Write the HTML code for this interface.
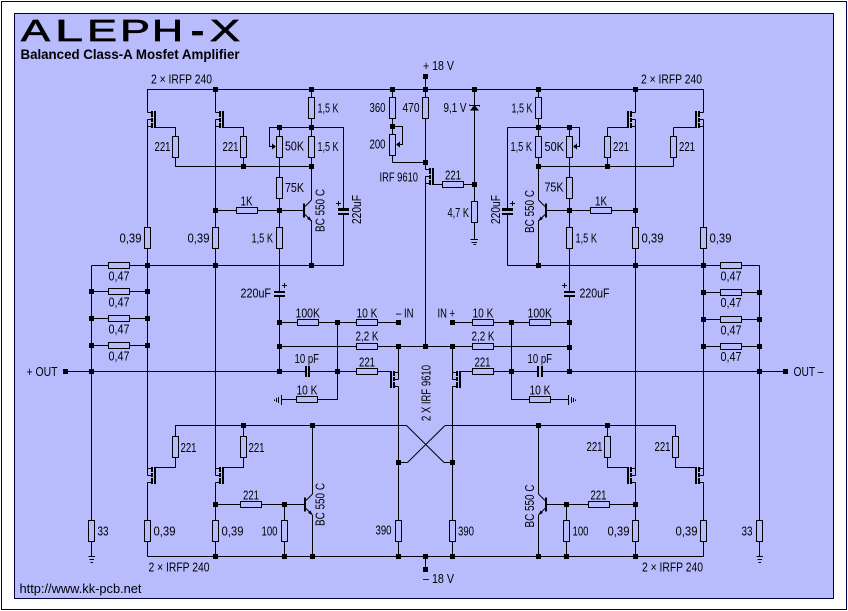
<!DOCTYPE html>
<html><head><meta charset="utf-8"><title>ALEPH-X</title>
<style>
html,body{margin:0;padding:0;background:#fff;width:848px;height:611px;overflow:hidden}
svg{display:block;font-family:"Liberation Sans",Arial,sans-serif}
text{font-size:13px;fill:#000}
.t{font-size:31px;stroke:#000;stroke-width:.7}
.w{fill:none;stroke:#000;stroke-width:1;shape-rendering:crispEdges}
.d{fill:none;stroke:#000;stroke-width:1}
.r{fill:#b8bcfc;stroke:#000;stroke-width:1;shape-rendering:crispEdges}
.k{fill:#000;shape-rendering:crispEdges}
.bg{fill:#b8bcfc;shape-rendering:crispEdges}
</style></head><body>
<svg width="848" height="611" viewBox="0 0 848 611" xmlns="http://www.w3.org/2000/svg">
<defs>
<rect id="rv" class="r" x="-3" y="0" width="6" height="21"/>
<rect id="rh" class="r" x="0" y="-3" width="21" height="6"/>
<rect id="n" class="k" x="-2.5" y="-2.5" width="5" height="5"/>
<g id="m"><path class="w" d="M0,1.5H4M0,8.5H4M0,15.5H4M0,8.5V15.5"/>
<rect class="k" x="3.5" y="0" width="2" height="6"/><rect class="k" x="3.5" y="7" width="2" height="4"/><rect class="k" x="3.5" y="12" width="2" height="5"/><rect class="k" x="6.5" y="0" width="2" height="17"/></g>
<g id="q"><rect class="k" x="-8.5" y="-7" width="2" height="14"/><path class="d" d="M-6.5,-4L0,-10.5M-6.5,4L0,10.5"/><path d="M0,10.5L-4.5,8.5L-2,6Z"/></g>
</defs>
<rect x="1.5" y="1.5" width="845" height="608" style="fill:#fff;stroke:#000050;shape-rendering:crispEdges"/>
<rect x="14.5" y="13.5" width="819" height="585" style="fill:#b8bcfc;stroke:#000040;shape-rendering:crispEdges"/>

<!-- wires -->
<path class="w" d="M147.5,89.5H703.5M425.5,76V169.5M425.5,176.5V346.5
M147.5,89V112.5M147.5,119.5V468.5M147.5,482.5V556.5
M215.5,89V112.5M215.5,119.5V468.5M215.5,482.5V556.5
M635.5,89V112.5M635.5,119.5V468.5M635.5,482.5V556.5
M703.5,89V112.5M703.5,119.5V468.5M703.5,482.5V556.5
M91.5,265.5V556M759.5,265.5V556M91.5,265.5H343.5M507.5,265.5H759.5
M91.5,291.5H147.5M91.5,318.5H147.5M91.5,345.5H147.5
M703.5,292.5H759.5M703.5,319.5H759.5M703.5,346.5H759.5
M155,127.5H175.5V166.5H311.5M223,127.5H243.5V166.5
M311.5,89V200M311.5,220V265.5
M279.5,127.5H343.5V265.5M279.5,127.5H269.5V146.5H274M279.5,127.5V371.5
M215.5,210.5H304M279.5,322.5H398.5M279.5,346.5H569.5M65.5,371.5H390
M337.5,322.5V399.5H281M398.5,346.5V372.5M398.5,386.5V556.5
M452.5,346.5V372.5M452.5,386.5V556.5
M452.5,322.5H569.5M460,371.5H785.5M511.5,322.5V399.5H568.5M569.5,127.5V371.5
M155,467.5H175.5V425.5H406.5M223,467.5H243.5V425.5
M445,425.5H675.5V467.5H695M607.5,425.5V467.5H627
M398.5,462.5H407.5M444,462.5H452.5
M312.5,425.5V494M312.5,515V556.5M538.5,425.5V494M538.5,515V556.5
M215.5,504.5H304M284.5,504.5V556.5M547,504.5H635.5M566.5,504.5V556.5
M147.5,556.5H703.5M425.5,556.5V569.5
M538.5,89V200M538.5,220V265.5M507.5,127.5H579.5V146.5H576M507.5,127.5V265.5
M538.5,166.5H673.5M607.5,127.5H627M607.5,127.5V166.5M673.5,127.5H695M673.5,127.5V166.5
M547,210.5H635.5M433,184.5H474.5M392.5,89V162.5H425.5M392.5,126.5H402.5V144.5H399M474.5,89V239
M88.5,556.5H95M89.5,559.5H94M90.5,562.5H93M756.5,556.5H763M757.5,559.5H762M758.5,562.5H761
M470.5,239.5H478M471.5,242.5H477M473.5,244.5H476
M281.5,395V405M278.5,397V403M276.5,398V402M274.5,399.5V401
M568.5,395V405M571.5,397V403M573.5,398V402M575.5,399.5V401"/>
<path class="d" d="M406.5,425.5L444,462.5M407.5,462.5L445,425.5"/>

<!-- resistors vertical -->
<use href="#rv" x="147.5" y="227.5"/><use href="#rv" x="215.5" y="227.5"/><use href="#rv" x="279.5" y="227.5"/>
<use href="#rv" x="569.5" y="227.5"/><use href="#rv" x="635.5" y="227.5"/><use href="#rv" x="703.5" y="227.5"/>
<use href="#rv" x="311.5" y="97.5"/><use href="#rv" x="392.5" y="97.5"/><use href="#rv" x="425.5" y="97.5"/><use href="#rv" x="538.5" y="97.5"/>
<use href="#rv" x="175.5" y="136.5"/><use href="#rv" x="243.5" y="136.5"/><use href="#rv" x="279.5" y="136.5"/><use href="#rv" x="311.5" y="136.5"/>
<use href="#rv" x="538.5" y="136.5"/><use href="#rv" x="569.5" y="136.5"/><use href="#rv" x="607.5" y="136.5"/><use href="#rv" x="673.5" y="136.5"/>
<use href="#rv" x="392.5" y="134.5"/>
<use href="#rv" x="279.5" y="177.5"/><use href="#rv" x="569.5" y="177.5"/>
<use href="#rv" x="474.5" y="201.5"/>
<use href="#rv" x="175.5" y="436.5"/><use href="#rv" x="243.5" y="436.5"/><use href="#rv" x="607.5" y="436.5"/><use href="#rv" x="675.5" y="436.5"/>
<use href="#rv" x="91.5" y="520.5"/><use href="#rv" x="147.5" y="520.5"/><use href="#rv" x="215.5" y="520.5"/><use href="#rv" x="284.5" y="520.5"/>
<use href="#rv" x="398.5" y="520.5"/><use href="#rv" x="452.5" y="520.5"/><use href="#rv" x="566.5" y="520.5"/><use href="#rv" x="635.5" y="520.5"/>
<use href="#rv" x="703.5" y="520.5"/><use href="#rv" x="759.5" y="520.5"/>
<!-- resistors horizontal -->
<use href="#rh" x="108.5" y="265.5"/><use href="#rh" x="108.5" y="291.5"/><use href="#rh" x="108.5" y="318.5"/><use href="#rh" x="108.5" y="345.5"/>
<use href="#rh" x="720.5" y="265.5"/><use href="#rh" x="720.5" y="292.5"/><use href="#rh" x="720.5" y="319.5"/><use href="#rh" x="720.5" y="346.5"/>
<use href="#rh" x="236.5" y="210.5"/><use href="#rh" x="590.5" y="210.5"/><use href="#rh" x="442.5" y="184.5"/>
<use href="#rh" x="297.5" y="322.5"/><use href="#rh" x="356.5" y="322.5"/><use href="#rh" x="472.5" y="322.5"/><use href="#rh" x="529.5" y="322.5"/>
<use href="#rh" x="356.5" y="346.5"/><use href="#rh" x="472.5" y="346.5"/><use href="#rh" x="356.5" y="371.5"/><use href="#rh" x="472.5" y="371.5"/>
<use href="#rh" x="296.5" y="399.5"/><use href="#rh" x="529.5" y="399.5"/>
<use href="#rh" x="240.5" y="504.5"/><use href="#rh" x="588.5" y="504.5"/>

<!-- pot arrows -->
<path class="k" d="M276,146.5L272,143.5V149.5Z"/><path class="k" d="M573,146.5L577,143.5V149.5Z"/><path class="k" d="M396,144.5L400,141.5V147.5Z"/>

<!-- mosfets -->
<use href="#m" transform="translate(147.5,111)"/><use href="#m" transform="translate(215.5,111)"/>
<use href="#m" transform="translate(635.5,111) scale(-1,1)"/><use href="#m" transform="translate(703.5,111) scale(-1,1)"/>
<use href="#m" transform="translate(425.5,168)"/>
<use href="#m" transform="translate(147.5,484) scale(1,-1)"/><use href="#m" transform="translate(215.5,484) scale(1,-1)"/>
<use href="#m" transform="translate(635.5,484) scale(-1,-1)"/><use href="#m" transform="translate(703.5,484) scale(-1,-1)"/>
<use href="#m" transform="translate(398.5,388) scale(-1,-1)"/><use href="#m" transform="translate(452.5,388) scale(1,-1)"/>

<!-- transistors -->
<use href="#q" transform="translate(311.5,210.5)"/><use href="#q" transform="translate(538.5,210.5) scale(-1,1)"/>
<use href="#q" transform="translate(312.5,504.5)"/><use href="#q" transform="translate(538.5,504.5) scale(-1,1)"/>

<!-- capacitors -->
<rect class="bg" x="338" y="210" width="11" height="4"/><rect class="k" x="338" y="208" width="11" height="3"/><rect class="k" x="338" y="213" width="11" height="2"/>
<rect class="bg" x="502" y="210" width="11" height="4"/><rect class="k" x="502" y="208" width="11" height="3"/><rect class="k" x="502" y="213" width="11" height="2"/>
<rect class="bg" x="274" y="292" width="11" height="4"/><rect class="k" x="274" y="291" width="11" height="2"/><rect class="k" x="274" y="295" width="11" height="2"/>
<rect class="bg" x="564" y="292" width="11" height="4"/><rect class="k" x="564" y="291" width="11" height="2"/><rect class="k" x="564" y="295" width="11" height="2"/>
<rect class="bg" x="306" y="366" width="3" height="11"/><rect class="k" x="305" y="366" width="2" height="11"/><rect class="k" x="308" y="366" width="2" height="11"/>
<rect class="bg" x="538" y="366" width="4" height="11"/><rect class="k" x="537" y="366" width="2" height="11"/><rect class="k" x="541" y="366" width="2" height="11"/>
<path class="w" d="M336,203.5H341M338.5,201V206M510,203.5H515M512.5,201V206M282,285.5H287M284.5,283V288M562,285.5H567M564.5,283V288"/>

<!-- zener -->
<path class="k" d="M474.5,105L470,110.5H479Z"/><path class="w" d="M469.5,105.5H480M469.5,104.5V105.5M479.5,105.5V106.5"/>

<!-- nodes -->
<g>
<use href="#n" x="215.5" y="89.5"/><use href="#n" x="311.5" y="89.5"/><use href="#n" x="392.5" y="89.5"/><use href="#n" x="425.5" y="89.5"/><use href="#n" x="474.5" y="89.5"/><use href="#n" x="538.5" y="89.5"/><use href="#n" x="635.5" y="89.5"/><use href="#n" x="425.5" y="76.5"/>
<use href="#n" x="279.5" y="127.5"/><use href="#n" x="311.5" y="127.5"/><use href="#n" x="392.5" y="126.5"/><use href="#n" x="538.5" y="127.5"/><use href="#n" x="569.5" y="127.5"/>
<use href="#n" x="243.5" y="166.5"/><use href="#n" x="311.5" y="166.5"/><use href="#n" x="538.5" y="166.5"/><use href="#n" x="607.5" y="166.5"/><use href="#n" x="425.5" y="162.5"/><use href="#n" x="474.5" y="184.5"/>
<use href="#n" x="215.5" y="210.5"/><use href="#n" x="279.5" y="210.5"/><use href="#n" x="569.5" y="210.5"/><use href="#n" x="635.5" y="210.5"/>
<use href="#n" x="147.5" y="265.5"/><use href="#n" x="215.5" y="265.5"/><use href="#n" x="311.5" y="265.5"/><use href="#n" x="538.5" y="265.5"/><use href="#n" x="635.5" y="265.5"/><use href="#n" x="703.5" y="265.5"/>
<use href="#n" x="91.5" y="291.5"/><use href="#n" x="147.5" y="291.5"/><use href="#n" x="91.5" y="318.5"/><use href="#n" x="147.5" y="318.5"/><use href="#n" x="91.5" y="345.5"/><use href="#n" x="147.5" y="345.5"/>
<use href="#n" x="703.5" y="292.5"/><use href="#n" x="759.5" y="292.5"/><use href="#n" x="703.5" y="319.5"/><use href="#n" x="759.5" y="319.5"/><use href="#n" x="703.5" y="346.5"/><use href="#n" x="759.5" y="346.5"/>
<use href="#n" x="279.5" y="322.5"/><use href="#n" x="337.5" y="322.5"/><use href="#n" x="398.5" y="322.5"/><use href="#n" x="452.5" y="322.5"/><use href="#n" x="511.5" y="322.5"/><use href="#n" x="569.5" y="322.5"/>
<use href="#n" x="279.5" y="346.5"/><use href="#n" x="398.5" y="346.5"/><use href="#n" x="425.5" y="346.5"/><use href="#n" x="452.5" y="346.5"/><use href="#n" x="569.5" y="347.5"/>
<use href="#n" x="65.5" y="371.5"/><use href="#n" x="91.5" y="371.5"/><use href="#n" x="279.5" y="371.5"/><use href="#n" x="337.5" y="371.5"/><use href="#n" x="511.5" y="371.5"/><use href="#n" x="569.5" y="371.5"/><use href="#n" x="759.5" y="371.5"/><use href="#n" x="785.5" y="371.5"/>
<use href="#n" x="243.5" y="425.5"/><use href="#n" x="312.5" y="425.5"/><use href="#n" x="538.5" y="425.5"/><use href="#n" x="607.5" y="425.5"/>
<use href="#n" x="398.5" y="462.5"/><use href="#n" x="452.5" y="462.5"/>
<use href="#n" x="215.5" y="504.5"/><use href="#n" x="284.5" y="504.5"/><use href="#n" x="566.5" y="504.5"/><use href="#n" x="635.5" y="504.5"/>
<use href="#n" x="215.5" y="556.5"/><use href="#n" x="284.5" y="556.5"/><use href="#n" x="312.5" y="556.5"/><use href="#n" x="398.5" y="556.5"/><use href="#n" x="425.5" y="556.5"/><use href="#n" x="452.5" y="556.5"/><use href="#n" x="538.5" y="556.5"/><use href="#n" x="566.5" y="556.5"/><use href="#n" x="635.5" y="556.5"/><use href="#n" x="425.5" y="569.5"/>
</g>

<!-- title -->
<g>
<text class="t" x="21" y="41" textLength="29" lengthAdjust="spacingAndGlyphs">A</text>
<text class="t" x="55" y="41" textLength="28" lengthAdjust="spacingAndGlyphs">L</text>
<text class="t" x="87" y="41" textLength="30" lengthAdjust="spacingAndGlyphs">E</text>
<text class="t" x="120" y="41" textLength="30" lengthAdjust="spacingAndGlyphs">P</text>
<text class="t" x="152" y="41" textLength="31" lengthAdjust="spacingAndGlyphs">H</text>
<text class="t" x="191" y="41" style="font-weight:bold" textLength="13" lengthAdjust="spacingAndGlyphs">-</text>
<text class="t" x="210" y="41" textLength="30" lengthAdjust="spacingAndGlyphs">X</text>
</g>
<text x="20.5" y="59" style="font-size:14px;font-weight:bold" textLength="219" lengthAdjust="spacingAndGlyphs">Balanced Class-A Mosfet Amplifier</text>
<text x="19.5" y="593" textLength="122" lengthAdjust="spacingAndGlyphs">http://www.kk-pcb.net</text>

<!-- labels -->
<g>
<text x="151" y="83.5" textLength="61" lengthAdjust="spacingAndGlyphs">2 × IRFP 240</text>
<text x="641" y="83.5" textLength="61" lengthAdjust="spacingAndGlyphs">2 × IRFP 240</text>
<text x="423" y="70" textLength="31" lengthAdjust="spacingAndGlyphs">+ 18 V</text>
<text x="423" y="583" textLength="31" lengthAdjust="spacingAndGlyphs">– 18 V</text>
<text x="148.5" y="571.5" textLength="61" lengthAdjust="spacingAndGlyphs">2 × IRFP 240</text>
<text x="642" y="571.5" textLength="61" lengthAdjust="spacingAndGlyphs">2 × IRFP 240</text>

<text x="317.5" y="112.5" textLength="21" lengthAdjust="spacingAndGlyphs">1,5 K</text>
<text x="369.5" y="112" textLength="16" lengthAdjust="spacingAndGlyphs">360</text>
<text x="402.5" y="112" textLength="17" lengthAdjust="spacingAndGlyphs">470</text>
<text x="443.5" y="112" textLength="23" lengthAdjust="spacingAndGlyphs">9,1 V</text>
<text x="511.5" y="112.5" textLength="21" lengthAdjust="spacingAndGlyphs">1,5 K</text>

<text x="154.5" y="151" textLength="16" lengthAdjust="spacingAndGlyphs">221</text>
<text x="222.5" y="151" textLength="16" lengthAdjust="spacingAndGlyphs">221</text>
<text x="285" y="150.5" textLength="19" lengthAdjust="spacingAndGlyphs">50K</text>
<text x="317.5" y="151" textLength="21" lengthAdjust="spacingAndGlyphs">1,5 K</text>
<text x="369.5" y="148.5" textLength="16" lengthAdjust="spacingAndGlyphs">200</text>
<text x="510.5" y="151" textLength="21.5" lengthAdjust="spacingAndGlyphs">1,5 K</text>
<text x="544.5" y="151" textLength="19.5" lengthAdjust="spacingAndGlyphs">50K</text>
<text x="613" y="151" textLength="16" lengthAdjust="spacingAndGlyphs">221</text>
<text x="679" y="151" textLength="16" lengthAdjust="spacingAndGlyphs">221</text>

<text x="379.5" y="181.5" textLength="38.5" lengthAdjust="spacingAndGlyphs">IRF 9610</text>
<text x="445" y="179.5" textLength="16" lengthAdjust="spacingAndGlyphs">221</text>
<text x="285" y="192" textLength="19" lengthAdjust="spacingAndGlyphs">75K</text>
<text x="544.5" y="191.5" textLength="19" lengthAdjust="spacingAndGlyphs">75K</text>
<text x="240.5" y="205.5" textLength="12" lengthAdjust="spacingAndGlyphs">1K</text>
<text x="595" y="205.5" textLength="12" lengthAdjust="spacingAndGlyphs">1K</text>
<text x="447.5" y="217" textLength="21.5" lengthAdjust="spacingAndGlyphs">4,7 K</text>

<text x="119.5" y="242.5" textLength="22" lengthAdjust="spacingAndGlyphs">0,39</text>
<text x="187.5" y="242.5" textLength="22" lengthAdjust="spacingAndGlyphs">0,39</text>
<text x="251.5" y="242.5" textLength="21.5" lengthAdjust="spacingAndGlyphs">1,5 K</text>
<text x="575.5" y="242.5" textLength="21.5" lengthAdjust="spacingAndGlyphs">1,5 K</text>
<text x="641.5" y="242.5" textLength="22" lengthAdjust="spacingAndGlyphs">0,39</text>
<text x="709.5" y="242.5" textLength="22" lengthAdjust="spacingAndGlyphs">0,39</text>

<text transform="translate(324.5,232) rotate(-90)" textLength="43" lengthAdjust="spacingAndGlyphs">BC 550 C</text>
<text transform="translate(534,233) rotate(-90)" textLength="43" lengthAdjust="spacingAndGlyphs">BC 550 C</text>
<text transform="translate(361,224) rotate(-90)" textLength="29" lengthAdjust="spacingAndGlyphs">220uF</text>
<text transform="translate(500,224) rotate(-90)" textLength="29" lengthAdjust="spacingAndGlyphs">220uF</text>
<text transform="translate(324.5,526) rotate(-90)" textLength="43" lengthAdjust="spacingAndGlyphs">BC 550 C</text>
<text transform="translate(534,527.5) rotate(-90)" textLength="43" lengthAdjust="spacingAndGlyphs">BC 550 C</text>
<text transform="translate(430.5,421) rotate(-90)" textLength="56" lengthAdjust="spacingAndGlyphs">2 X IRF 9610</text>

<text x="108.5" y="280.5" textLength="21" lengthAdjust="spacingAndGlyphs">0,47</text>
<text x="108.5" y="306.5" textLength="21" lengthAdjust="spacingAndGlyphs">0,47</text>
<text x="108.5" y="333.5" textLength="21" lengthAdjust="spacingAndGlyphs">0,47</text>
<text x="108.5" y="360.5" textLength="21" lengthAdjust="spacingAndGlyphs">0,47</text>
<text x="720.5" y="280.5" textLength="21" lengthAdjust="spacingAndGlyphs">0,47</text>
<text x="720.5" y="307" textLength="21" lengthAdjust="spacingAndGlyphs">0,47</text>
<text x="720.5" y="334.5" textLength="21" lengthAdjust="spacingAndGlyphs">0,47</text>
<text x="720.5" y="361" textLength="21" lengthAdjust="spacingAndGlyphs">0,47</text>

<text x="240.5" y="297.5" textLength="30.5" lengthAdjust="spacingAndGlyphs">220uF</text>
<text x="579.5" y="297.5" textLength="30" lengthAdjust="spacingAndGlyphs">220uF</text>

<text x="295.5" y="317.5" textLength="24.5" lengthAdjust="spacingAndGlyphs">100K</text>
<text x="356.5" y="317.5" textLength="21" lengthAdjust="spacingAndGlyphs">10 K</text>
<text x="396" y="317.5" textLength="17.5" lengthAdjust="spacingAndGlyphs">– IN</text>
<text x="437.5" y="317.5" textLength="17.5" lengthAdjust="spacingAndGlyphs">IN +</text>
<text x="472.5" y="317.5" textLength="21" lengthAdjust="spacingAndGlyphs">10 K</text>
<text x="527.5" y="317.5" textLength="24.5" lengthAdjust="spacingAndGlyphs">100K</text>

<text x="355.5" y="340.5" textLength="23" lengthAdjust="spacingAndGlyphs">2,2 K</text>
<text x="471.5" y="340.5" textLength="23" lengthAdjust="spacingAndGlyphs">2,2 K</text>
<text x="294.5" y="363" textLength="24.5" lengthAdjust="spacingAndGlyphs">10 pF</text>
<text x="527.5" y="363" textLength="24.5" lengthAdjust="spacingAndGlyphs">10 pF</text>
<text x="359" y="366.5" textLength="16" lengthAdjust="spacingAndGlyphs">221</text>
<text x="474.5" y="366.5" textLength="16" lengthAdjust="spacingAndGlyphs">221</text>
<text x="26.5" y="376" textLength="31" lengthAdjust="spacingAndGlyphs">+ OUT</text>
<text x="793.5" y="376" textLength="30" lengthAdjust="spacingAndGlyphs">OUT –</text>
<text x="296.5" y="394.5" textLength="21" lengthAdjust="spacingAndGlyphs">10 K</text>
<text x="529.5" y="394.5" textLength="21" lengthAdjust="spacingAndGlyphs">10 K</text>

<text x="180.5" y="452" textLength="16" lengthAdjust="spacingAndGlyphs">221</text>
<text x="248.5" y="452" textLength="16" lengthAdjust="spacingAndGlyphs">221</text>
<text x="586.5" y="451" textLength="16" lengthAdjust="spacingAndGlyphs">221</text>
<text x="654.5" y="451" textLength="16" lengthAdjust="spacingAndGlyphs">221</text>
<text x="243" y="499.5" textLength="16" lengthAdjust="spacingAndGlyphs">221</text>
<text x="590.5" y="499.5" textLength="16" lengthAdjust="spacingAndGlyphs">221</text>

<text x="97.5" y="535.5" textLength="11" lengthAdjust="spacingAndGlyphs">33</text>
<text x="741.5" y="535.5" textLength="11" lengthAdjust="spacingAndGlyphs">33</text>
<text x="153.5" y="535.5" textLength="22" lengthAdjust="spacingAndGlyphs">0,39</text>
<text x="221.5" y="535.5" textLength="22" lengthAdjust="spacingAndGlyphs">0,39</text>
<text x="607.5" y="535.5" textLength="22" lengthAdjust="spacingAndGlyphs">0,39</text>
<text x="675.5" y="535.5" textLength="22" lengthAdjust="spacingAndGlyphs">0,39</text>
<text x="261.5" y="535.5" textLength="16" lengthAdjust="spacingAndGlyphs">100</text>
<text x="572.5" y="535.5" textLength="16" lengthAdjust="spacingAndGlyphs">100</text>
<text x="375.5" y="534.5" textLength="16" lengthAdjust="spacingAndGlyphs">390</text>
<text x="458" y="535.5" textLength="16" lengthAdjust="spacingAndGlyphs">390</text>
</g>
</svg>
</body></html>
